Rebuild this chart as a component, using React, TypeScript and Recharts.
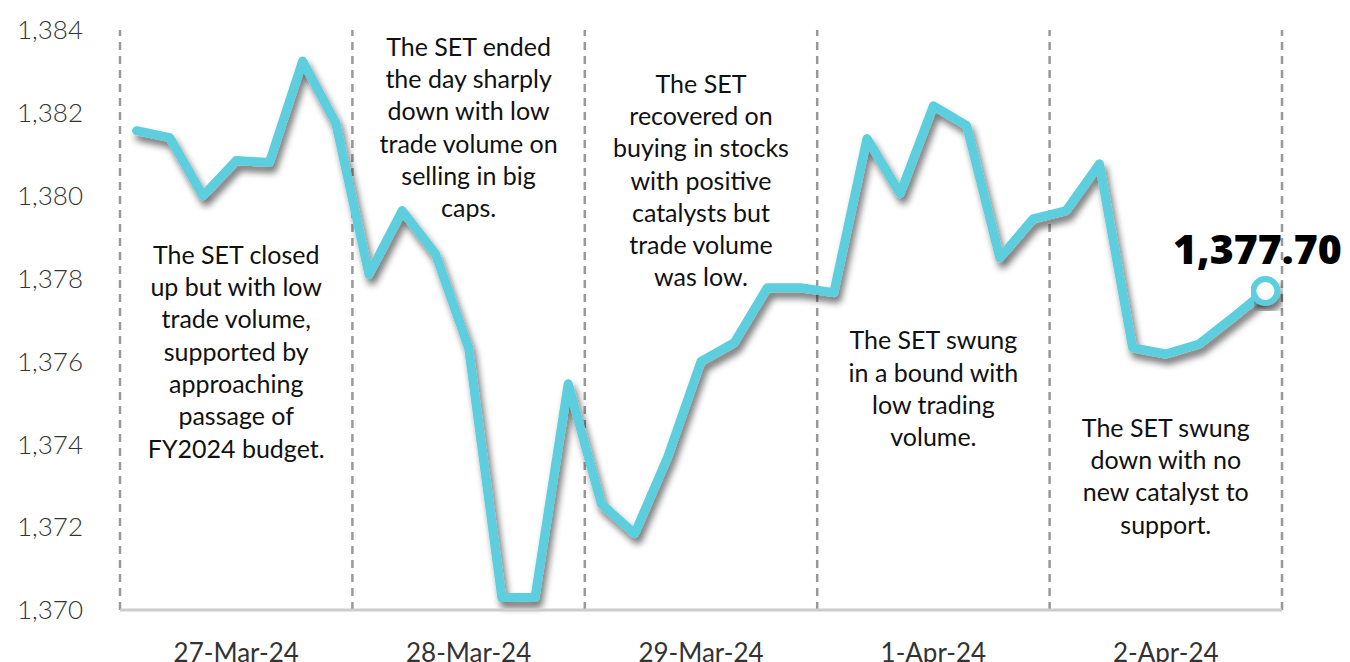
import React from 'react';
import { LineChart, Line, XAxis, YAxis, ReferenceLine, ReferenceDot } from 'recharts';

// SET index, 7 readings per trading day
const days = ['27-Mar-24', '28-Mar-24', '29-Mar-24', '1-Apr-24', '2-Apr-24'];
const mar27 = [1381.57, 1381.4, 1380.0, 1380.85, 1380.8, 1383.25, 1381.75];
const mar28 = [1378.1, 1379.64, 1378.6, 1376.33, 1370.3, 1370.3, 1375.46];
const mar29 = [1372.56, 1371.84, 1373.7, 1376.0, 1376.45, 1377.78, 1377.78];
const apr1 = [1377.66, 1381.38, 1380.05, 1382.17, 1381.69, 1378.5, 1379.44];
const apr2 = [1379.64, 1380.77, 1376.33, 1376.18, 1376.42, 1377.05, 1377.7];
const yTicks = [1370, 1372, 1374, 1376, 1378, 1380, 1382, 1384];

// comment boxes: day index, value where the first line sits, text lines
const notes = [
  { day: 0, at: 1378.57, lines: ['The SET closed', 'up but with low', 'trade volume,', 'supported by', 'approaching', 'passage of', 'FY2024 budget.'] },
  { day: 1, at: 1383.59, lines: ['The SET ended', 'the day sharply', 'down with low', 'trade volume on', 'selling in big', 'caps.'] },
  { day: 2, at: 1382.7, lines: ['The SET', 'recovered on', 'buying in stocks', 'with positive', 'catalysts but', 'trade volume', 'was low.'] },
  { day: 3, at: 1376.5, lines: ['The SET swung', 'in a bound with', 'low trading', 'volume.'] },
  { day: 4, at: 1374.39, lines: ['The SET swung', 'down with no', 'new catalyst to', 'support.'] },
];

const perDay = 7;
const series = [mar27, mar28, mar29, apr1, apr2];
const data = series.flat().map((v, i) => ({ x: i + 0.5, v }));
const dayCenters = days.map((_, i) => i * perDay + perDay / 2);
const dividers = [0, 1, 2, 3, 4, 5].map((i) => i * perDay);

const FONT = 'Lato, "Open Sans", sans-serif';
const CYAN = '#5BCEDD';

const renderDot = (props: any) => {
  const { cx, cy, index, value } = props;
  if (index !== data.length - 1) return <g key={index} />;
  return (
    <g key={index}>
      <text x={cx - 8} y={cy - 27} textAnchor="middle" fontFamily='"Open Sans", sans-serif' fontWeight={800} fontSize={41} fill="#000">
        {Number(value).toLocaleString('en-US', { minimumFractionDigits: 2 })}
      </text>
      <circle cx={cx} cy={cy} r={12} fill="#fff" stroke={CYAN} strokeWidth={6} filter="url(#lineShadow)" />
    </g>
  );
};

const DayTick = (props: any) => {
  const { x, y, payload } = props;
  return (
    <text x={x} y={y + 50} textAnchor="middle" fontFamily={FONT} fontSize={26} fill="#333">
      {days[Math.round((payload.value - perDay / 2) / perDay)]}
    </text>
  );
};

const noteShape = (lines: string[]) => (props: any) => {
  const { cx, cy } = props;
  return (
    <text textAnchor="middle" fontFamily={FONT} fontSize={25} fill="#111">
      {lines.map((l, i) => (
        <tspan key={i} x={cx} y={cy + i * 32.3} dy="0.35em">{l}</tspan>
      ))}
    </text>
  );
};

const App = () => {
  return (
    <div style={{ position: 'absolute', left: 0, top: 0 }}>
      <svg width={0} height={0} style={{ position: 'absolute' }}>
        <defs>
          <filter id="lineShadow" x="-10%" y="-10%" width="130%" height="140%" filterUnits="objectBoundingBox">
            <feGaussianBlur in="SourceAlpha" stdDeviation="3.5" />
            <feOffset dx="3" dy="6" result="off" />
            <feComponentTransfer>
              <feFuncA type="linear" slope="0.55" />
            </feComponentTransfer>
            <feMerge>
              <feMergeNode />
              <feMergeNode in="SourceGraphic" />
            </feMerge>
          </filter>
        </defs>
      </svg>
      <style>{`.recharts-line-curve { filter: url(#lineShadow); }`}</style>
      <LineChart width={1350} height={662} data={data} margin={{ top: 30, right: 68, left: 0, bottom: 0 }}>
        <XAxis
          type="number"
          dataKey="x"
          domain={[0, days.length * perDay]}
          ticks={dayCenters}
          interval={0}
          tick={<DayTick />}
          tickLine={false}
          tickSize={0}
          height={52}
          axisLine={{ stroke: '#cccccc', strokeWidth: 3 }}
        />
        <YAxis
          domain={[1370, 1384]}
          ticks={yTicks}
          interval={0}
          width={120}
          axisLine={false}
          tickLine={false}
          tickSize={0}
          tickMargin={37}
          tickFormatter={(v: number) => v.toLocaleString('en-US')}
          tick={{ fontFamily: FONT, fontSize: 26, fill: '#333', fontWeight: 300 }}
        />
        {dividers.map((d) => (
          <ReferenceLine key={d} x={d} stroke="#999" strokeWidth={2.5} strokeDasharray="8 6" />
        ))}
        {notes.map((n) => (
          <ReferenceDot key={n.day} x={dayCenters[n.day]} y={n.at} r={1} shape={noteShape(n.lines)} />
        ))}
        <Line
          type="linear"
          dataKey="v"
          stroke={CYAN}
          strokeWidth={9}
          strokeLinejoin="round"
          strokeLinecap="round"
          dot={renderDot}
          activeDot={false}
          isAnimationActive={false}
        />
      </LineChart>
    </div>
  );
};

export default App;
